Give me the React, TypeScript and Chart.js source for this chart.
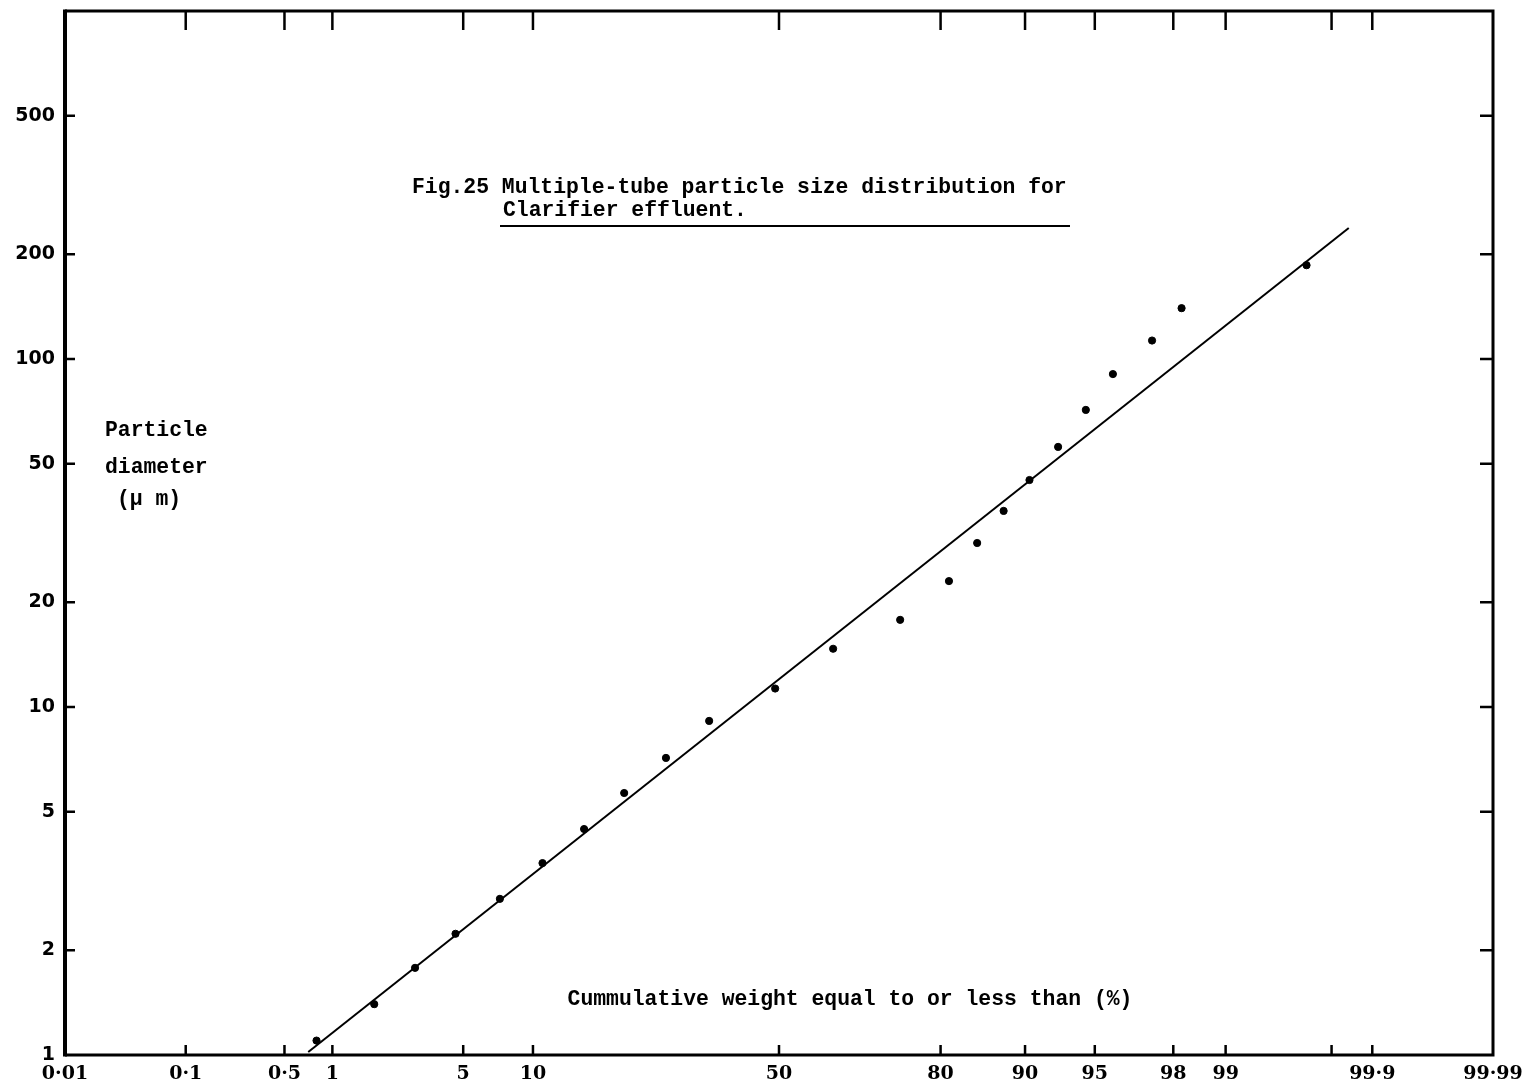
import React, { useEffect, useRef } from "react";
import { Chart, Scale, registerables } from "chart.js";

// ---- Data ----
// Cumulative weight (%) equal to or less than
const CUM_PERCENT = [0.8, 1.75, 2.9, 4.6, 7.3, 10.9, 15.5, 21.0, 27.8, 35.8, 49.2, 61.1, 73.6, 81.2, 84.9, 87.9, 90.4, 92.7, 94.5, 95.9, 97.4, 98.2, 99.7];
// Particle diameter (µm)
const DIAMETER = [1.1, 1.4, 1.78, 2.23, 2.81, 3.56, 4.46, 5.66, 7.14, 9.12, 11.3, 14.7, 17.8, 23.0, 29.6, 36.6, 44.9, 55.9, 71.4, 90.5, 113, 140, 186];
// Fitted line end points
const FIT_PERCENT = [0.71, 99.85];
const FIT_DIAMETER = [1.02, 238];

// Axis ticks
const X_TICKS = [0.01, 0.1, 0.5, 1, 5, 10, 50, 80, 90, 95, 98, 99, 99.8, 99.9, 99.99];
const X_TICK_LABELS = ["0·01", "0·1", "0·5", "1", "5", "10", "50", "80", "90", "95", "98", "99", "", "99·9", "99·99"];
const Y_TICKS = [1, 2, 5, 10, 20, 50, 100, 200, 500];
const Y_MARKS = [2, 5, 10, 20, 50, 100, 200, 500];

const TITLE_1 = "Fig.25 Multiple-tube particle size distribution for";
const TITLE_2 = "Clarifier effluent.";
const Y_LABEL = ["Particle", "diameter", "(μ m)"];
const X_LABEL = "Cummulative weight equal to or less than (%)";

// ---- Normal probability helpers ----
function probit(p: number): number {
  const a = [-3.969683028665376e1, 2.209460984245205e2, -2.759285104469687e2, 1.38357751867269e2, -3.066479806614716e1, 2.506628277459239];
  const b = [-5.447609879822406e1, 1.615858368580409e2, -1.556989798598866e2, 6.680131188771972e1, -1.328068155288572e1];
  const c = [-7.784894002430293e-3, -3.223964580411365e-1, -2.400758277161838, -2.549732539343734, 4.374664141464968, 2.938163982698783];
  const d = [7.784695709041462e-3, 3.224671290700398e-1, 2.445134137142996, 3.754408661907416];
  const pl = 0.02425;
  if (p < pl) {
    const q = Math.sqrt(-2 * Math.log(p));
    return (((((c[0] * q + c[1]) * q + c[2]) * q + c[3]) * q + c[4]) * q + c[5]) / ((((d[0] * q + d[1]) * q + d[2]) * q + d[3]) * q + 1);
  }
  if (p <= 1 - pl) {
    const q = p - 0.5;
    const r = q * q;
    return ((((((a[0] * r + a[1]) * r + a[2]) * r + a[3]) * r + a[4]) * r + a[5]) * q) / (((((b[0] * r + b[1]) * r + b[2]) * r + b[3]) * r + b[4]) * r + 1);
  }
  const q = Math.sqrt(-2 * Math.log(1 - p));
  return -(((((c[0] * q + c[1]) * q + c[2]) * q + c[3]) * q + c[4]) * q + c[5]) / ((((d[0] * q + d[1]) * q + d[2]) * q + d[3]) * q + 1);
}
function normCdf(z: number): number {
  const t = 1 / (1 + 0.2316419 * Math.abs(z));
  const dd = 0.3989423 * Math.exp((-z * z) / 2);
  const pr = dd * t * (0.3193815 + t * (-0.3565638 + t * (1.781478 + t * (-1.821256 + t * 1.330274))));
  return z > 0 ? 1 - pr : pr;
}

class ProbabilityScale extends Scale {
  static id = "probability";
  static defaults = {};
  _zMin = 0;
  _zMax = 1;
  determineDataLimits() {
    const o: any = this.options;
    this.min = o.min ?? 0.01;
    this.max = o.max ?? 99.99;
  }
  buildTicks() {
    const o: any = this.options;
    return (o.tickValues || []).map((v: number) => ({ value: v }));
  }
  configure() {
    super.configure();
    this._zMin = probit(this.min / 100);
    this._zMax = probit(this.max / 100);
  }
  getLabelForValue(v: number) {
    return String(v);
  }
  getPixelForTick(i: number) {
    return this.getPixelForValue(this.ticks[i].value);
  }
  getPixelForValue(v: number) {
    if (v == null || isNaN(v)) return NaN;
    const z = probit(v / 100);
    return this.getPixelForDecimal((z - this._zMin) / (this._zMax - this._zMin));
  }
  getValueForPixel(px: number) {
    const dec = this.getDecimalForPixel(px);
    return normCdf(this._zMin + dec * (this._zMax - this._zMin)) * 100;
  }
}

Chart.register(...registerables, ProbabilityScale as any);

const MONO = '"Liberation Mono", "DejaVu Sans Mono", monospace';

const framePlugin = {
  id: "frameAndText",
  afterDatasetsDraw(chart: any) {
    const { ctx, chartArea } = chart;
    const xs = chart.scales.x;
    const ys = chart.scales.y;
    const { left, right, top, bottom } = chartArea;
    ctx.save();
    ctx.strokeStyle = "#000";
    ctx.lineCap = "butt";
    // frame
    ctx.lineWidth = 3;
    ctx.beginPath();
    ctx.moveTo(left, top);
    ctx.lineTo(right, top);
    ctx.lineTo(right, bottom);
    ctx.lineTo(left, bottom);
    ctx.stroke();
    ctx.lineWidth = 4;
    ctx.beginPath();
    ctx.moveTo(left, top - 1.5);
    ctx.lineTo(left, bottom + 1.5);
    ctx.stroke();
    // inward tick marks
    ctx.lineWidth = 2.5;
    ctx.beginPath();
    X_TICKS.forEach((v) => {
      const px = xs.getPixelForValue(v);
      if (px <= left + 3 || px >= right - 3) return;
      ctx.moveTo(px, bottom);
      ctx.lineTo(px, bottom - 10);
      ctx.moveTo(px, top);
      ctx.lineTo(px, top + 19);
    });
    Y_MARKS.forEach((v) => {
      const py = ys.getPixelForValue(v);
      ctx.moveTo(left, py);
      ctx.lineTo(left + 10, py);
      ctx.moveTo(right, py);
      ctx.lineTo(right - 13, py);
    });
    ctx.stroke();

    // texts
    ctx.fillStyle = "#000";
    ctx.textBaseline = "middle";
    ctx.textAlign = "left";
    ctx.font = `bold 21.4px ${MONO}`;
    ctx.fillText(TITLE_1, 412, 188);
    ctx.fillText(TITLE_2, 503, 211);
    ctx.lineWidth = 2;
    ctx.beginPath();
    ctx.moveTo(500, 226);
    ctx.lineTo(1070, 226);
    ctx.stroke();

    ctx.fillText(Y_LABEL[0], 105, 431);
    ctx.fillText(Y_LABEL[1], 105, 468);
    ctx.fillText(Y_LABEL[2], 117, 500);

    ctx.textAlign = "center";
    ctx.fillText(X_LABEL, 850, 1000);
    ctx.restore();
  },
};

export default function App() {
  const ref = useRef<HTMLCanvasElement | null>(null);
  useEffect(() => {
    if (!ref.current) return;
    const chart = new Chart(ref.current, {
      type: "scatter",
      data: {
        datasets: [
          {
            label: "Measured",
            data: CUM_PERCENT.map((p, i) => ({ x: p, y: DIAMETER[i] })),
            backgroundColor: "#000",
            borderColor: "#000",
            pointRadius: 3.6,
            pointHoverRadius: 3.6,
            showLine: false,
          },
          {
            label: "Fit",
            data: FIT_PERCENT.map((p, i) => ({ x: p, y: FIT_DIAMETER[i] })),
            borderColor: "#000",
            borderWidth: 2,
            pointRadius: 0,
            showLine: true,
            tension: 0,
          } as any,
        ],
      },
      options: {
        animation: false,
        responsive: false,
        devicePixelRatio: 1,
        layout: { padding: { top: 11, right: 38, left: 0, bottom: 0 } },
        plugins: { legend: { display: false }, tooltip: { enabled: false }, title: { display: false } },
        events: [],
        scales: {
          x: {
            type: "probability" as any,
            min: 0.01,
            max: 99.99,
            tickValues: X_TICKS,
            position: "bottom",
            grid: { display: false, drawTicks: false },
            border: { display: false },
            afterFit: (s: any) => {
              s.height = 31;
              s.paddingLeft = 0;
              s.paddingRight = 0;
            },
            ticks: {
              autoSkip: false,
              maxRotation: 0,
              minRotation: 0,
              padding: 8,
              color: "#000",
              font: { family: '"DejaVu Serif", serif', weight: "bold", size: 19 },
              callback: (_v: any, i: number) => X_TICK_LABELS[i],
            },
          } as any,
          y: {
            type: "logarithmic",
            min: 1,
            max: 1000,
            position: "left",
            grid: { display: false, drawTicks: false },
            border: { display: false },
            afterBuildTicks: (s: any) => {
              s.ticks = Y_TICKS.map((v) => ({ value: v }));
            },
            afterFit: (s: any) => {
              s.width = 65;
              s.paddingTop = 0;
              s.paddingBottom = 0;
            },
            ticks: {
              autoSkip: false,
              padding: 10,
              color: "#000",
              font: { family: '"DejaVu Sans", sans-serif', weight: "bold", size: 19 },
              callback: (v: any) => String(v),
            },
          },
        },
      },
      plugins: [framePlugin],
    });
    return () => chart.destroy();
  }, []);
  return (
    <div style={{ position: "fixed", left: 0, top: 0, width: 1531, height: 1086, background: "#fff" }}>
      <canvas ref={ref} width={1531} height={1086} style={{ display: "block" }} />
    </div>
  );
}
